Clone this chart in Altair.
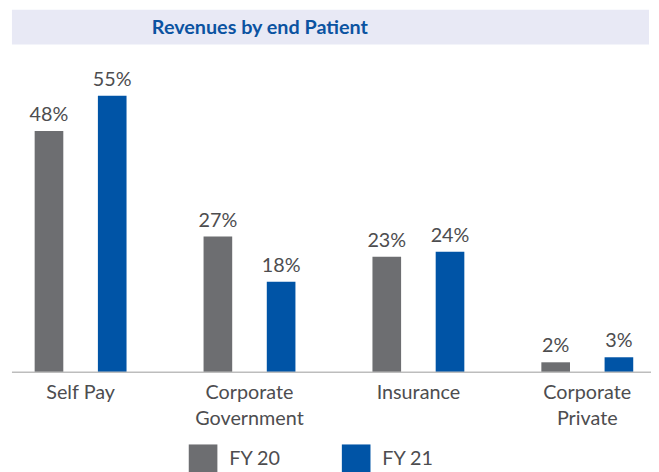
import altair as alt
import pandas as pd

categories = ["Self Pay", "Corporate Government", "Insurance", "Corporate Private"]
fy20 = [48, 27, 23, 2]
fy21 = [55, 18, 24, 3]
series = ["FY 20", "FY 21"]
title_text = "Revenues by end Patient"

rows = []
for c, a, b in zip(categories, fy20, fy21):
    rows.append({"cat": c, "series": series[0], "value": a, "label": f"{a}%"})
    rows.append({"cat": c, "series": series[1], "value": b, "label": f"{b}%"})
df = pd.DataFrame(rows)

FONT = "Lato"
GRAY = "#6d6e71"
BLUE = "#0054a6"
TXT = "#4d4d4f"

x_enc = alt.X(
    "cat:N",
    sort=categories,
    scale=alt.Scale(range=[-16, 668], paddingInner=0, paddingOuter=0),
    axis=alt.Axis(
        title=None,
        domain=False,
        ticks=False,
        labelAngle=0,
        labelFont=FONT,
        labelFontSize=20,
        labelColor=TXT,
        labelPadding=10,
        labelLineHeight=27,
        labelBaseline="top",
        labelExpr="indexof(datum.label, 'Corporate') == 0 ? split(datum.label, ' ') : datum.label",
    ),
)
y_scale = alt.Scale(domain=[0, 63.65], nice=False)
xoff = alt.XOffset("series:N", sort=series,
                   scale=alt.Scale(paddingInner=0.547, paddingOuter=0.609))
color = alt.Color(
    "series:N",
    sort=series,
    scale=alt.Scale(domain=series, range=[GRAY, BLUE]),
    legend=alt.Legend(
        title=None,
        orient="none",
        direction="horizontal",
        legendX=179,
        legendY=397,
        symbolType="square",
        symbolSize=841,
        symbolStrokeWidth=0,
        symbolOpacity=1,
        labelFont=FONT,
        labelFontSize=20,
        labelColor=TXT,
        labelOffset=12,
        columnPadding=61,
        padding=0,
    ),
)

base = alt.Chart(df)
bars = base.mark_bar(size=29).encode(
    x=x_enc,
    xOffset=xoff,
    y=alt.Y("value:Q", scale=y_scale, axis=None),
    color=color,
)
labels = base.mark_text(font=FONT, fontSize=20, color=TXT, dy=-10, baseline="alphabetic").encode(
    x=alt.X("cat:N", sort=categories),
    xOffset=xoff,
    y=alt.Y("value:Q", scale=y_scale),
    text="label:N",
)

tdf = pd.DataFrame({"t": [title_text], "zero": [0]})
tbase = alt.Chart(tdf)
band = tbase.mark_rect(color="#e8e9f5").encode(
    x=alt.value(0), x2=alt.value(645), y=alt.value(-43), y2=alt.value(-8)
)
title = tbase.mark_text(font=FONT, fontSize=20, fontWeight="bold", color="#0b53a1",
                        baseline="middle", align="center").encode(
    x=alt.value(251), y=alt.value(-25), text="t:N"
)
baseline = tbase.mark_rule(color="#bdbdbd", strokeWidth=1.5).encode(
    x=alt.value(0), x2=alt.value(647), y=alt.Y("zero:Q", scale=y_scale)
)

chart = alt.layer(band, title, bars, labels, baseline).properties(
    width=647,
    height=324,
    autosize=alt.AutoSizeParams(type="none"),
    padding={"left": 4, "top": 42, "right": 0, "bottom": 98},
).configure_view(stroke=None)

chart.save("out.html", embed_options={"renderer": "svg", "actions": False})
